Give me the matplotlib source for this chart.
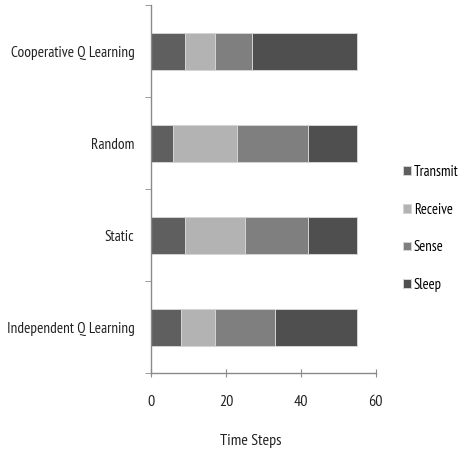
import matplotlib
matplotlib.use('Agg')
import matplotlib.pyplot as plt
import numpy as np

plt.rcParams['font.family'] = ['PT Sans Narrow', 'Roboto Condensed', 'Liberation Sans', 'DejaVu Sans']

# methods listed top to bottom
methods = ['Cooperative Q Learning', 'Random', 'Static', 'Independent Q Learning']
states = ['Transmit', 'Receive', 'Sense', 'Sleep']
transmit = [9, 6, 9, 8]
receive = [8, 17, 16, 9]
sense = [10, 19, 17, 16]
sleep = [28, 13, 13, 22]
colors = ['#5f5f5f', '#b3b3b3', '#7f7f7f', '#4f4f4f']

fig = plt.figure(figsize=(4.63, 4.57), dpi=100)
ax = fig.add_axes([0.3261, 0.1832, 0.4853, 0.8052])

y = np.arange(len(methods))
left = np.zeros(len(methods))
for name, vals, c in zip(states, [transmit, receive, sense, sleep], colors):
    ax.barh(y, vals, left=left, height=0.4, color=c, edgecolor='#d4d4d4',
            linewidth=0.7, label=name)
    left += np.array(vals)

ax.set_xlim(0, 60)
ax.set_ylim(3.5, -0.5)
ax.set_xticks([0, 20, 40, 60])
ax.set_yticks(y)
ax.set_yticklabels(methods)
ax.set_yticks(np.arange(-0.5, 4, 1), minor=True)

for s in ['top', 'right']:
    ax.spines[s].set_visible(False)
for s in ['left', 'bottom']:
    ax.spines[s].set_color('#8a8a8a')
    ax.spines[s].set_linewidth(1.0)

ax.tick_params(axis='y', which='major', length=0, pad=12, labelsize=11, labelcolor='#222222')
ax.tick_params(axis='y', which='minor', length=4, color='#8a8a8a', direction='out')
ax.tick_params(axis='x', length=6, direction='inout', color='#8a8a8a', pad=13,
               labelsize=11.5, labelcolor='#222222')

fig.text(251 / 463, 1 - 441 / 457, 'Time Steps', ha='center', va='center',
         fontsize=11.5, color='#222222')

fig.legend(loc='upper left', bbox_to_anchor=(403 / 463, 1 - 165 / 457), frameon=False,
           handlelength=0.55, handleheight=0.55, handletextpad=0.2, labelspacing=1.62,
           fontsize=10.5, borderaxespad=0, borderpad=0)

fig.savefig('out.png', dpi=100)
